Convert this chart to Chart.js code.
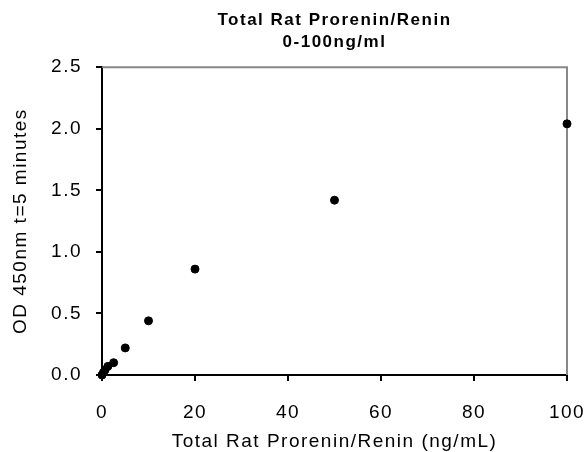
<!DOCTYPE html>
<html>
<head>
<meta charset="utf-8">
<script src="https://cdn.jsdelivr.net/npm/chart.js@4.4.0/dist/chart.umd.min.js"></script>
<style>
  html, body { margin: 0; padding: 0; background: #fff; }
  #wrap { width: 584px; height: 452px; }
</style>
</head>
<body>
<div id="wrap"><canvas id="stdCurve" width="584" height="452"></canvas></div>
<script>
// standard curve
const concentration = [0, 0.31, 0.63, 1.25, 2.5, 5, 10, 20, 50, 100];
const odValues = [0.00, 0.02, 0.04, 0.07, 0.10, 0.22, 0.44, 0.86, 1.42, 2.04];
const titleLines = ['Total Rat Prorenin/Renin', '0-100ng/ml'];
const xTitle = 'Total Rat Prorenin/Renin (ng/mL)';
const yTitle = 'OD 450nm t=5 minutes';

const points = concentration.map((c, i) => ({ x: c, y: odValues[i] }));

// wider text like the original, and gray top/right frame
const frame = {
    id: 'frame',
    beforeLayout(chart) { chart.ctx.letterSpacing = '1.5px'; },
    beforeDraw(chart) { chart.ctx.letterSpacing = '1.5px'; },
    beforeDatasetsDraw(chart) {
        const { ctx, chartArea: a } = chart;
        ctx.save();
        ctx.strokeStyle = '#888888';
        ctx.lineWidth = 2;
        ctx.beginPath();
        ctx.moveTo(a.left, a.top);
        ctx.lineTo(a.right, a.top);
        ctx.lineTo(a.right, a.bottom);
        ctx.stroke();
        ctx.restore();
    }
};

const ctx = document.getElementById('stdCurve').getContext('2d');
new Chart(ctx, {
    type: 'scatter',
    data: {
        datasets: [{
            data: points,
            backgroundColor: '#000',
            borderColor: '#000',
            pointRadius: 4,
            pointHoverRadius: 4,
            clip: false
        }]
    },
    options: {
        responsive: false,
        animation: false,
        layout: { padding: { top: 0, right: 0, bottom: 0, left: 0 } },
        plugins: {
            legend: { display: false },
            tooltip: { enabled: false },
            title: {
                display: true,
                text: titleLines,
                fullSize: false,
                color: '#000',
                font: { family: 'Liberation Sans', size: 17, weight: 'bold', lineHeight: 1.3 },
                padding: { top: 9, bottom: 14 }
            }
        },
        scales: {
            x: {
                type: 'linear',
                min: 0,
                max: 100,
                afterFit(scale) {
                    scale.height = 77;
                    scale.paddingRight = 17;
                },
                ticks: {
                    stepSize: 20,
                    color: '#000',
                    padding: 20,
                    maxRotation: 0,
                    font: { family: 'Liberation Sans', size: 19 }
                },
                grid: { drawOnChartArea: false, tickLength: 6, color: '#000', lineWidth: 2 },
                border: { color: '#000', width: 2 },
                title: {
                    display: true,
                    text: xTitle,
                    color: '#000',
                    font: { family: 'Liberation Sans', size: 19, lineHeight: 1 },
                    padding: { top: 0, bottom: 1 }
                }
            },
            y: {
                type: 'linear',
                min: 0,
                max: 2.5,
                afterFit(scale) { scale.width = 102; },
                ticks: {
                    stepSize: 0.5,
                    color: '#000',
                    padding: 14,
                    font: { family: 'Liberation Sans', size: 19 },
                    callback: v => v.toFixed(1)
                },
                grid: { drawOnChartArea: false, tickLength: 6, color: '#000', lineWidth: 2 },
                border: { color: '#000', width: 2 },
                title: {
                    display: true,
                    text: yTitle,
                    color: '#000',
                    font: { family: 'Liberation Sans', size: 19, lineHeight: 1 },
                    padding: { top: 11, bottom: 0 }
                }
            }
        }
    },
    plugins: [frame]
});
</script>
</body>
</html>
